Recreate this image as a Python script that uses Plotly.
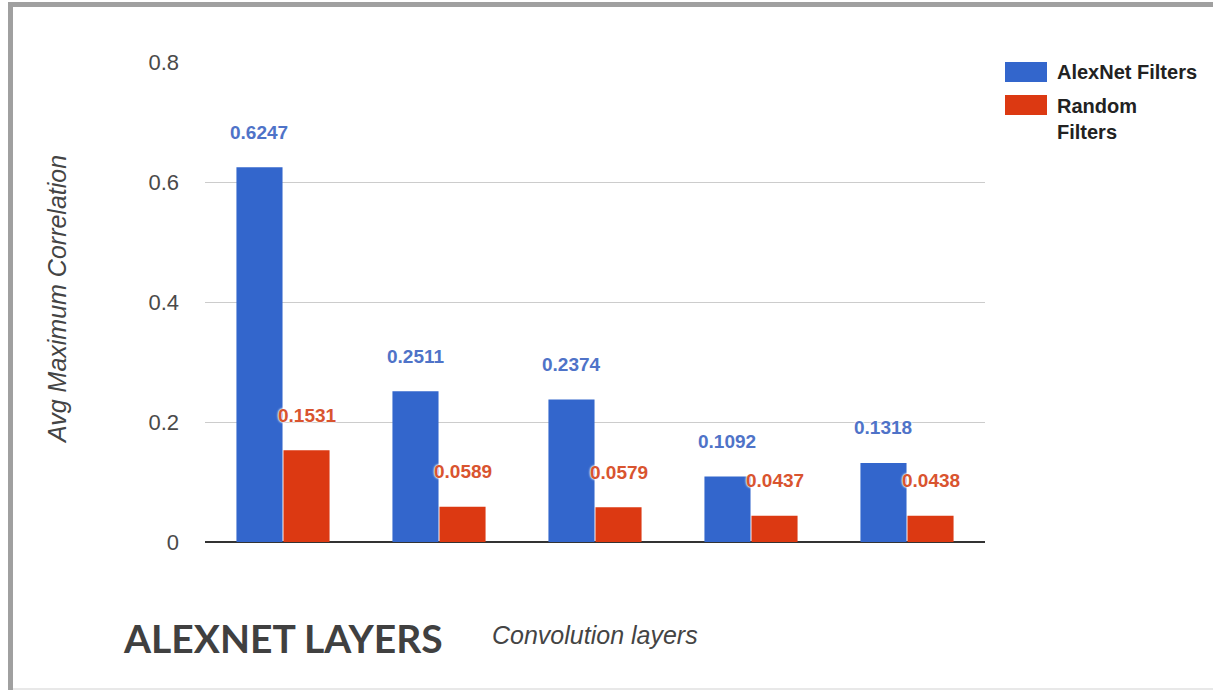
import plotly.graph_objects as go

# Chart data
layers = ["conv1", "conv2", "conv3", "conv4", "conv5"]
alexnet_filters = [0.6247, 0.2511, 0.2374, 0.1092, 0.1318]
random_filters = [0.1531, 0.0589, 0.0579, 0.0437, 0.0438]
series_names = ["AlexNet Filters", "Random Filters"]
y_ticks = [0, 0.2, 0.4, 0.6, 0.8]
y_tick_text = ["0", "0.2", "0.4", "0.6", "0.8"]

BLUE = "#3366cc"
RED = "#dc3912"
BLUE_TXT = "#4f73c8"
RED_TXT = "#d9542f"
SANS = "Liberation Sans, Arial"

W, H = 1213, 690
ML, MR, MT, MB = 205, 228, 62, 148
PW, PH = W - ML - MR, H - MT - MB


def px(x):
    return (x - ML) / PW


def py(y):
    return (H - MB - y) / PH


fig = go.Figure()
fig.add_trace(go.Bar(x=layers, y=alexnet_filters, name=series_names[0],
                     marker=dict(color=BLUE, line=dict(width=0))))
fig.add_trace(go.Bar(x=layers, y=random_filters, name=series_names[1],
                     marker=dict(color=RED, line=dict(width=0))))

annotations = []
halo = "0 0 2px white, 0 0 2px white, 0 0 3px white"
for cat, a, r in zip(layers, alexnet_filters, random_filters):
    annotations.append(dict(x=cat, y=a, xref="x", yref="y", text=f"<b>{a:.4f}</b>",
                            showarrow=False, xshift=-24, yshift=35,
                            xanchor="center", yanchor="middle",
                            font=dict(family=SANS, size=19, color=BLUE_TXT, shadow=halo)))
    annotations.append(dict(x=cat, y=r, xref="x", yref="y", text=f"<b>{r:.4f}</b>",
                            showarrow=False, xshift=24, yshift=35,
                            xanchor="center", yanchor="middle",
                            font=dict(family=SANS, size=19, color=RED_TXT, shadow=halo)))


def label(x, y, text, font, xanchor="center", angle=0):
    return dict(x=px(x), y=py(y), xref="paper", yref="paper", text=text,
                showarrow=False, xanchor=xanchor, yanchor="middle",
                textangle=angle, font=font)


# axis titles and heading
annotations.append(label(57, 300, "<i>Avg Maximum Correlation</i>",
                         dict(family=SANS, size=25, color="#444444"), angle=-90))
annotations.append(label(595, 635, "<i>Convolution layers</i>",
                         dict(family=SANS, size=25, color="#444444")))
annotations.append(label(283, 638, "<b>ALEXNET LAYERS</b>",
                         dict(family="Lato", size=39, color="#404040")))

# legend
legend_font = dict(family=SANS, size=20, color="#222222")
random_words = series_names[1].split(" ")
annotations.append(label(1055, 72, f"<b>{series_names[0]}</b>", legend_font, xanchor="left"))
annotations.append(label(1055, 106, f"<b>{random_words[0]}</b>", legend_font, xanchor="left"))
annotations.append(label(1055, 132, f"<b>{random_words[1]}</b>", legend_font, xanchor="left"))

shapes = [
    # legend swatches
    dict(type="rect", xref="paper", yref="paper", x0=px(1005), x1=px(1047), y0=py(62), y1=py(82),
         fillcolor=BLUE, line=dict(width=0)),
    dict(type="rect", xref="paper", yref="paper", x0=px(1005), x1=px(1047), y0=py(95), y1=py(115),
         fillcolor=RED, line=dict(width=0)),
    # page frame
    dict(type="rect", xref="paper", yref="paper", x0=px(8), x1=px(1213), y0=py(2), y1=py(7),
         fillcolor="#a0a0a0", line=dict(width=0), layer="above"),
    dict(type="rect", xref="paper", yref="paper", x0=px(8), x1=px(13), y0=py(2), y1=py(690),
         fillcolor="#a0a0a0", line=dict(width=0), layer="above"),
    dict(type="rect", xref="paper", yref="paper", x0=px(13), x1=px(1213), y0=py(688), y1=py(690),
         fillcolor="#e8e8e8", line=dict(width=0), layer="above"),
]

fig.update_layout(
    width=W, height=H,
    margin=dict(l=ML, r=MR, t=MT, b=MB, pad=0),
    paper_bgcolor="white", plot_bgcolor="white",
    barmode="group", bargap=0.397, bargroupgap=0.02,
    showlegend=False,
    annotations=annotations, shapes=shapes,
    xaxis=dict(showticklabels=False, showgrid=False, ticks="", showline=False, zeroline=False,
               fixedrange=True),
    yaxis=dict(range=[0, 0.8], tickvals=y_ticks, ticktext=y_tick_text,
               showgrid=True, gridcolor="#cccccc", gridwidth=1,
               zeroline=True, zerolinecolor="#333333", zerolinewidth=2,
               ticks="", ticklabelstandoff=25,
               tickfont=dict(family=SANS, size=22, color="#4a4a4a"),
               fixedrange=True),
    font=dict(family=SANS),
)

fig.write_html("out.html", config=dict(displayModeBar=False))
